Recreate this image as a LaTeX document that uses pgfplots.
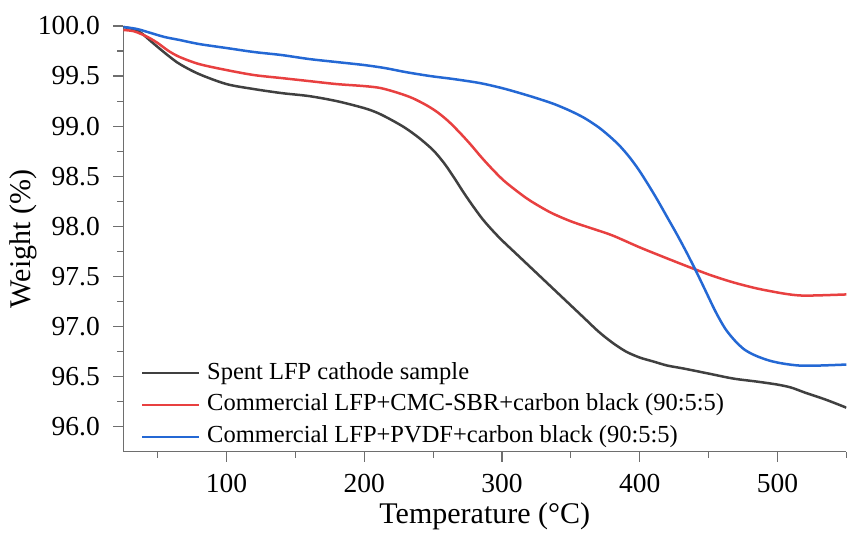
\documentclass[border=0pt]{standalone}
\usepackage{pgfplots}
\pgfplotsset{compat=1.18}
\usepackage{fontspec}
\setmainfont{Liberation Serif}
\definecolor{cblack}{RGB}{64,64,64}
\definecolor{cred}{RGB}{232,64,64}
\definecolor{cblue}{RGB}{36,104,212}
\definecolor{axgray}{RGB}{110,110,110}
\newcommand{\tickfont}{\rmfamily\fontsize{27.5bp}{30bp}\selectfont}
\begin{document}
\begin{tikzpicture}
\begin{axis}[
  scale only axis, width=723bp, height=425.7bp,
  xmin=25, xmax=550, ymin=95.75, ymax=100,
  axis lines=left, axis line style={axgray, line width=1.2bp, -},
  xtick={100,200,300,400,500}, xticklabels={100,200,300,400,500},
  minor xtick={50,150,250,350,450,550},
  ytick={96,96.5,97,97.5,98,98.5,99,99.5,100},
  yticklabels={96.0,96.5,97.0,97.5,98.0,98.5,99.0,99.5,100.0},
  minor ytick={96.25,96.75,97.25,97.75,98.25,98.75,99.25,99.75},
  tick align=outside, major tick length=10bp, minor tick length=6bp,
  tick style={axgray, line width=1.2bp},
  xticklabel style={font=\tickfont, text=black, yshift=-9bp},
  yticklabel style={font=\tickfont, text=black, xshift=-10bp},
  xlabel={Temperature (°C)}, ylabel={Weight (\%)},
  label style={font=\rmfamily\fontsize{30bp}{32bp}\selectfont},
  xlabel style={at={(axis description cs:0.5,-0.168)}, anchor=base},
  ylabel style={at={(axis description cs:-0.1383,0.5)}, anchor=center},
  legend style={draw=none, fill=none, at={(axis description cs:0,0)}, anchor=south west,
    xshift=14.7bp, yshift=2bp, font=\rmfamily\fontsize{24.5bp}{26bp}\selectfont,
    column sep=7bp, row sep=9.7bp,
    nodes={inner sep=0pt, text height=17bp, text depth=5bp}},
  legend cell align=left,
  legend image code/.code={\draw[#1, line width=2bp] (0bp,0bp) -- (57bp,0bp);},
  every axis plot/.append style={line width=2.5bp, smooth, tension=0.5},
]
\addplot[cblack] coordinates {
(25,99.99)(32,99.97)(38,99.93)(44,99.86)(50,99.79)(58,99.70)(66,99.62)(80,99.52)(100,99.42)(120,99.37)(140,99.33)(160,99.30)(180,99.25)(200,99.18)(210,99.13)(220,99.06)(230,98.98)(240,98.88)(250,98.76)(258,98.63)(265,98.49)(272,98.34)(279,98.20)(286,98.07)(293,97.96)(300,97.86)(310,97.73)(320,97.60)(330,97.47)(340,97.34)(350,97.21)(360,97.08)(370,96.95)(380,96.84)(390,96.75)(400,96.69)(410,96.65)(420,96.61)(432,96.58)(450,96.53)(468,96.48)(485,96.45)(500,96.42)(510,96.39)(520,96.34)(535,96.27)(550,96.19)
};
\addlegendentry{Spent LFP cathode sample}
\addplot[cred] coordinates {
(25,99.96)(32,99.95)(38,99.92)(44,99.88)(50,99.83)(58,99.75)(66,99.69)(80,99.62)(100,99.56)(120,99.51)(140,99.48)(160,99.45)(180,99.42)(200,99.40)(212,99.38)(225,99.33)(235,99.28)(245,99.21)(253,99.14)(261,99.05)(269,98.94)(277,98.82)(285,98.69)(293,98.57)(301,98.46)(310,98.36)(320,98.26)(335,98.14)(350,98.05)(365,97.98)(380,97.91)(400,97.79)(418,97.69)(436.5,97.59)(452,97.51)(468,97.44)(485,97.38)(504,97.33)(516,97.31)(528,97.31)(550,97.32)
};
\addlegendentry{Commercial LFP+CMC-SBR+carbon black (90:5:5)}
\addplot[cblue] coordinates {
(25,99.99)(35,99.97)(45,99.93)(55,99.89)(66,99.86)(80,99.82)(100,99.78)(120,99.74)(140,99.71)(160,99.67)(180,99.64)(200,99.61)(215,99.58)(230,99.54)(248,99.50)(265,99.47)(284,99.43)(300,99.38)(313,99.33)(325,99.28)(338,99.22)(350,99.15)(360,99.08)(370,98.99)(378,98.90)(385,98.81)(392,98.70)(399,98.57)(406,98.42)(413,98.26)(420,98.09)(427,97.92)(434,97.74)(441,97.55)(448,97.35)(455,97.15)(462,96.98)(469,96.86)(476,96.77)(484,96.71)(494,96.66)(504,96.63)(516,96.61)(530,96.61)(550,96.62)
};
\addlegendentry{Commercial LFP+PVDF+carbon black (90:5:5)}
\end{axis}
\pgfresetboundingbox
\path ([shift={(-123.3bp,-84.3bp)}]current axis.south west) rectangle ([shift={(2.7bp,26bp)}]current axis.north east);
\end{tikzpicture}
\end{document}
